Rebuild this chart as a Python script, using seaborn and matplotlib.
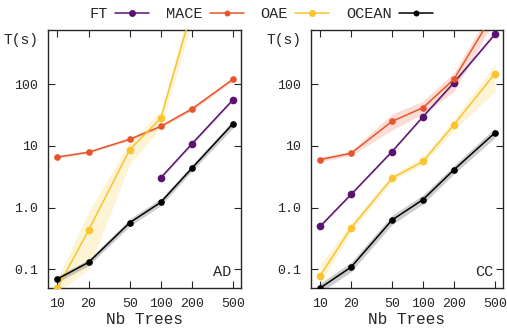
import numpy as np
import pandas as pd
import matplotlib
matplotlib.use("Agg")
import matplotlib.pyplot as plt
from matplotlib.lines import Line2D
import seaborn as sns

# ---------------- data ----------------
trees = [10, 20, 50, 100, 200, 500]
methods = ["FT", "MACE", "OAE", "OCEAN"]
colors = {"FT": "#5a1270", "MACE": "#e8552c", "OAE": "#f9c42d", "OCEAN": "#000000"}
msizes = {"FT": 5.5, "MACE": 4.8, "OAE": 5.5, "OCEAN": 4.8}
nan = np.nan

# AD dataset (mean, low, high)
ad_ft = [nan, nan, nan, 3.05, 10.8, 56]
ad_ft_lo = [nan, nan, nan, 2.9, 10.2, 53]
ad_ft_hi = [nan, nan, nan, 3.2, 11.4, 60]
ad_mace = [6.6, 7.9, 12.8, 20.7, 39.5, 120]
ad_mace_lo = [6.3, 7.6, 12.2, 19.5, 37, 112]
ad_mace_hi = [6.9, 8.3, 13.6, 22, 43, 130]
ad_oae = [0.05, 0.43, 8.7, 28, 1600, nan]
ad_oae_lo = [0.042, 0.1, 5.0, 20, 1000, nan]
ad_oae_hi = [0.07, 0.85, 11.5, 36, 2500, nan]
ad_ocean = [0.07, 0.13, 0.57, 1.22, 4.35, 22.9]
ad_ocean_lo = [0.062, 0.115, 0.5, 1.08, 3.9, 19.5]
ad_ocean_hi = [0.078, 0.145, 0.66, 1.4, 4.9, 26]

# CC dataset
cc_ft = [0.5, 1.64, 8.1, 29.7, 106, 640]
cc_ft_lo = [0.48, 1.58, 7.8, 28.5, 100, 610]
cc_ft_hi = [0.53, 1.72, 8.5, 31, 112, 680]
cc_mace = [6.0, 7.6, 25, 41.5, 120, 1500]
cc_mace_lo = [5.5, 7.0, 18, 33, 75, 1100]
cc_mace_hi = [6.6, 8.3, 33, 53, 155, 2000]
cc_oae = [0.079, 0.47, 3.0, 5.6, 22, 147]
cc_oae_lo = [0.06, 0.4, 2.7, 5.0, 18, 75]
cc_oae_hi = [0.12, 0.56, 3.4, 6.6, 27, 210]
cc_ocean = [0.05, 0.109, 0.63, 1.35, 4.1, 16.2]
cc_ocean_lo = [0.042, 0.092, 0.53, 1.15, 3.5, 13.5]
cc_ocean_hi = [0.06, 0.13, 0.75, 1.6, 4.8, 19.5]

panels = {
    "AD": {"FT": (ad_ft, ad_ft_lo, ad_ft_hi), "MACE": (ad_mace, ad_mace_lo, ad_mace_hi),
           "OAE": (ad_oae, ad_oae_lo, ad_oae_hi), "OCEAN": (ad_ocean, ad_ocean_lo, ad_ocean_hi)},
    "CC": {"FT": (cc_ft, cc_ft_lo, cc_ft_hi), "MACE": (cc_mace, cc_mace_lo, cc_mace_hi),
           "OAE": (cc_oae, cc_oae_lo, cc_oae_hi), "OCEAN": (cc_ocean, cc_ocean_lo, cc_ocean_hi)},
}

# ---------------- style ----------------
sns.set_style("ticks")
plt.rcParams["font.family"] = ["Liberation Mono", "DejaVu Sans Mono"]

fig = plt.figure(figsize=(5.07, 3.31), dpi=100)
axes = [fig.add_axes([0.0947, 0.130, 0.381, 0.779]),
        fig.add_axes([0.613, 0.130, 0.379, 0.779])]

for ax, (name, series) in zip(axes, panels.items()):
    rows = []
    for m in methods:
        mean, lo, hi = series[m]
        for t, v in zip(trees, mean):
            rows.append({"trees": t, "time": v, "method": m})
        ok = ~np.isnan(np.array(lo, dtype=float))
        ax.fill_between(np.array(trees)[ok], np.array(lo)[ok], np.array(hi)[ok],
                        color=colors[m], alpha=0.2, linewidth=0, zorder=1)
    df = pd.DataFrame(rows).dropna()
    for m in methods:
        sns.lineplot(data=df[df["method"] == m], x="trees", y="time",
                     color=colors[m], marker="o", markersize=msizes[m],
                     markeredgewidth=0, linewidth=1.1, errorbar=None,
                     ax=ax, zorder=3)
    ax.set_xscale("log")
    ax.set_yscale("log")
    ax.set_xlim(8.1, 600)
    ax.set_ylim(0.05, 750)
    ax.set_xticks(trees)
    ax.set_xticklabels([str(t) for t in trees])
    ax.set_yticks([0.1, 1, 10, 100])
    ax.set_yticklabels(["0.1", "1.0", "10", "100"])
    ax.minorticks_off()
    ax.tick_params(direction="in", top=True, right=True, length=5, width=0.8,
                   labelsize=9.5, pad=7)
    ax.tick_params(axis="x", pad=7)
    for s in ax.spines.values():
        s.set_linewidth(1.0)
    ax.set_xlabel("Nb Trees", fontsize=11.5, labelpad=2)
    ax.set_ylabel("")
    ax.text(-0.05, 0.96, "T(s)", transform=ax.transAxes, ha="right", va="center",
            fontsize=10.5)
    ax.text(0.95, 0.06, name, transform=ax.transAxes, ha="right", va="center",
            fontsize=11)

handles = [Line2D([], [], color=colors[m], marker="o", markersize=msizes[m] - 0.5,
                  markeredgewidth=0, linewidth=1.1) for m in methods]
fig.legend(handles, methods, loc="center", bbox_to_anchor=(0.515, 0.958), ncol=4,
           frameon=False, markerfirst=False, fontsize=11, handlelength=2.2,
           columnspacing=1.1, handletextpad=0.5)

fig.savefig("out.png", dpi=100)
